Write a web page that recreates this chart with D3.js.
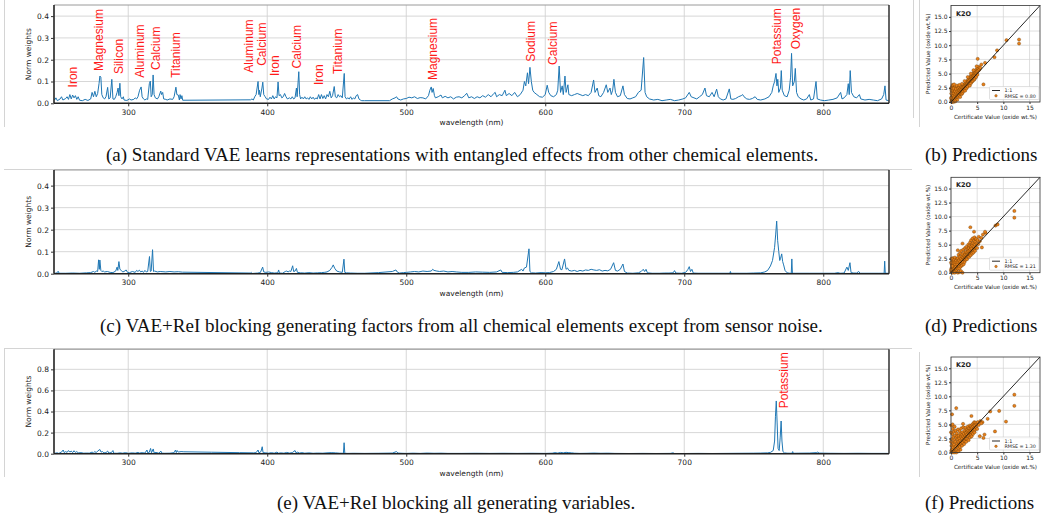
<!DOCTYPE html>
<html>
<head>
<meta charset="utf-8">
<script src="https://cdn.jsdelivr.net/npm/d3@7"></script>
<style>
body{margin:0;background:#fff;}
svg{display:block;}
.tick text{font-family:"DejaVu Sans",sans-serif;fill:#222;}
.tick line{stroke:#333;}
.domain{display:none;}
.axlabel{font-family:"DejaVu Sans",sans-serif;fill:#222;}
.caption{font-family:"Liberation Serif","Times New Roman",serif;font-size:19px;fill:#111;}
.elem{font-family:"Liberation Sans",Arial,sans-serif;font-size:12px;fill:#ff1a1a;}
.grid{stroke:#d2d2d2;stroke-width:0.9;}
.frame{stroke:#d4d4d4;stroke-width:1;}
</style>
</head>
<body>
<svg id="fig" width="1041" height="516"></svg>
<script>
// ---- data ----
var wlTicks = [300,400,500,600,700,800];
var yTicksAC = [0,0.1,0.2,0.3,0.4];
var yTicksE = [0,0.2,0.4,0.6,0.8];
var scTicksX = [0,5,10,15];
var scTicksY = [0,2.5,5,7.5,10,12.5,15];

// (a) standard VAE weights  [wavelength, weight]
var specA = [[247,0.015],[248,0.025],[249,0.012],[251,0.02],[252,0.03],[253,0.015],[255,0.022],[256,0.03],[257,0.018],[258,0.04],[259,0.02],[260,0.038],[261,0.025],[262,0.035],[263,0.018],[264,0.03],[265,0.014],[267,0.012],[269,0.018],[271,0.013],[273,0.02],[274,0.05],[275,0.03],[276,0.055],[277,0.03],[278,0.045],[279,0.09],[279.6,0.125],[280.3,0.12],[281,0.04],[282,0.025],[283,0.02],[284,0.03],[285.2,0.073],[286,0.02],[287,0.025],[288.2,0.11],[289,0.02],[290,0.018],[291,0.03],[292,0.05],[292.7,0.07],[293.3,0.035],[294,0.092],[294.6,0.03],[295.5,0.02],[296.5,0.03],[297,0.015],[299,0.013],[301,0.02],[302,0.015],[304,0.018],[305,0.025],[306,0.02],[307,0.03],[308.2,0.06],[309.3,0.075],[310,0.03],[311,0.02],[312,0.015],[313,0.02],[314,0.018],[315.2,0.09],[315.9,0.102],[316.5,0.03],[317.3,0.04],[317.9,0.13],[318.6,0.04],[319.5,0.025],[321,0.02],[322,0.03],[323.4,0.056],[324,0.04],[324.8,0.05],[325.5,0.02],[327,0.018],[328,0.015],[330,0.02],[332,0.018],[333,0.03],[334.3,0.074],[335,0.04],[336,0.038],[336.8,0.015],[337.3,0.04],[338,0.02],[338.6,0.035],[339.2,0.014],
  [388,0.016],[389,0.02],[390,0.015],[391,0.03],[392,0.04],[393.4,0.1],[394,0.04],[394.4,0.06],[395,0.03],[396.2,0.07],[396.8,0.097],[397.5,0.04],[398.5,0.03],[399.5,0.02],[401,0.018],[402,0.028],[403,0.02],[404,0.035],[405,0.02],[406,0.03],[407,0.025],[407.8,0.098],[408.5,0.035],[409.5,0.04],[410.5,0.025],[411.5,0.03],[412.5,0.045],[413.5,0.03],[414.5,0.02],[416,0.025],[417,0.02],[418,0.03],[419,0.02],[420,0.025],[421,0.07],[421.5,0.03],[422.7,0.145],[423.3,0.04],[424,0.02],[425,0.028],[426,0.02],[427,0.03],[428,0.02],[429,0.025],[430,0.018],[431,0.03],[432,0.02],[433,0.028],[434,0.018],[435,0.025],[436,0.02],[437,0.04],[438,0.02],[439,0.04],[440,0.022],[441,0.035],[442,0.02],[443,0.04],[444,0.03],[445,0.055],[446,0.025],[447,0.035],[448.2,0.077],[449,0.03],[450,0.025],[451,0.04],[452,0.03],[453,0.035],[454,0.025],[455.4,0.137],[456,0.03],[457,0.02],[458,0.025],[459,0.02],[460,0.03],[461,0.018],[462,0.025],[463,0.02],[464,0.035],[465,0.04],[466,0.02],[467,0.015],[468,0.012],[470,0.012],
  [488,0.012],[490,0.02],[492,0.025],[493,0.03],[494,0.02],[496,0.015],[498,0.02],[500,0.022],[502,0.028],[504,0.025],[506,0.03],[508,0.022],[510,0.026],[512,0.025],[514,0.02],[516,0.035],[517,0.06],[518,0.075],[518.6,0.05],[519.4,0.068],[520.3,0.035],[521,0.025],[523,0.03],[525,0.038],[526,0.025],[528,0.032],[530,0.025],[532,0.03],[534,0.02],[536,0.028],[538,0.03],[540,0.025],[542,0.035],[543.5,0.046],[545,0.025],[547,0.03],[549,0.022],[551,0.03],[553,0.025],[555,0.035],[557,0.028],[559,0.04],[561,0.03],[563,0.045],[564,0.05],[565,0.03],[567,0.04],[569,0.035],[571,0.06],[572,0.035],[574,0.045],[576,0.035],[578,0.05],[580,0.03],[582,0.04],[584,0.06],[585,0.1],[586,0.08],[587.2,0.14],[588,0.09],[589,0.165],[590,0.1],[591,0.06],[592,0.05],[594,0.04],[596,0.03],[598,0.028],[600,0.04],[601.4,0.083],[602.5,0.05],[604,0.035],[606,0.03],[608,0.04],[609,0.06],[610,0.171],[611,0.05],[612.2,0.08],[613,0.04],[614.2,0.125],[615,0.05],[616.3,0.085],[617,0.04],[619,0.035],[621,0.04],[623,0.045],[625,0.04],[627,0.035],[629,0.04],[631,0.035],[633,0.05],[634.8,0.107],[635.8,0.05],[637.4,0.07],[638.5,0.035],[640,0.03],[642,0.05],[643.9,0.085],[645,0.05],[646.6,0.07],[647.5,0.04],[648.5,0.06],[649.4,0.11],[650.5,0.05],[652,0.03],[654,0.035],[655.9,0.08],[657,0.04],[659,0.022],[661,0.02],[663,0.025],[665,0.03],[667,0.05],[669,0.06],[670.8,0.21],[671.8,0.05],[673,0.03],[675,0.02],[678,0.015],[681,0.018],[684,0.012],[687,0.015],[690,0.018],[693,0.012],[696,0.015],[699,0.02],[701,0.025],[703.6,0.05],[705,0.03],[707,0.025],[709,0.02],[711,0.03],[713,0.04],[714.9,0.07],[716,0.035],[718,0.03],[720,0.05],[721.5,0.03],[723.3,0.065],[724.5,0.03],[726,0.02],[728,0.015],[730,0.02],[732.4,0.066],[733.5,0.02],[735,0.018],[737,0.022],[739,0.03],[741,0.035],[742,0.04],[743,0.03],[745,0.02],[747,0.018],[749,0.022],[751,0.03],[752.5,0.018],[755,0.015],[758,0.02],[761,0.03],[763,0.05],[764,0.08],[765,0.1],[766,0.137],[766.7,0.08],[767.3,0.11],[768,0.05],[769.2,0.07],[769.8,0.15],[770.5,0.06],[772,0.035],[774,0.03],[775.5,0.06],[776.5,0.12],[777.2,0.229],[778,0.08],[779.2,0.1],[779.9,0.16],[780.8,0.05],[782,0.03],[784,0.02],[786,0.015],[788,0.02],[790,0.04],[791,0.015],[793,0.02],[794.8,0.1],[795.7,0.02],[798,0.015],[801,0.012],[804,0.015],[807,0.018],[810,0.025],[812.5,0.05],[813.5,0.02],[815,0.025],[817,0.04],[818,0.09],[818.7,0.04],[819.4,0.15],[820.3,0.05],[822,0.03],[824,0.025],[826,0.04],[827,0.02],[830,0.015],[833,0.018],[836,0.015],[839,0.012],[842,0.02],[843.5,0.04],[844.4,0.08],[845.2,0.015],[847,0.012]];

// (c) VAE+ReI, sensor noise kept
var specC = [[247,0.002],[248.5,0.003],[249.6,0.011],[250.3,0.002],[255,0.002],[260,0.003],[265,0.002],[270,0.004],[273,0.005],[275,0.01],[276,0.006],[277,0.012],[278,0.01],[278.7,0.063],[279.2,0.02],[279.6,0.062],[280.3,0.015],[281,0.01],[282,0.012],[283,0.008],[285,0.01],[287,0.006],[289,0.005],[291,0.012],[292,0.03],[292.5,0.015],[293.3,0.055],[294,0.02],[295,0.015],[296,0.008],[297,0.01],[298.5,0.017],[299.5,0.006],[301,0.005],[303,0.01],[305,0.006],[306,0.015],[307,0.01],[308,0.016],[309,0.008],[310,0.012],[311,0.006],[312,0.015],[313,0.008],[314,0.01],[315.3,0.078],[315.9,0.01],[316.5,0.012],[317.5,0.109],[318.2,0.01],[319,0.012],[321,0.008],[323,0.01],[325,0.009],[327,0.008],[330,0.01],[333,0.008],[336,0.009],[339,0.007],
  [388,0.003],[388.5,0.006],[389,0.001],[393,0.003],[395,0.005],[396.7,0.03],[397.5,0.008],[399,0.006],[401,0.008],[403,0.005],[405,0.003],[407.6,0.004],[408.2,0.017],[408.8,0.003],[411,0.002],[413,0.01],[414,0.012],[415,0.008],[416,0.012],[417,0.01],[418.3,0.036],[419,0.01],[420,0.012],[421,0.024],[421.7,0.006],[424,0.004],[427,0.003],[430,0.005],[433,0.003],[436,0.004],[439,0.005],[441,0.006],[443,0.008],[445,0.015],[446.5,0.028],[447.5,0.04],[448.5,0.025],[450,0.012],[452,0.008],[454,0.006],[455.2,0.066],[455.8,0.006],[457,0.004],[460,0.003],[465,0.002],[470,0.002],
  [480,0.005],[490,0.01],[492.6,0.017],[493.5,0.008],[495,0.003],[498,0.005],[500,0.006],[503,0.008],[506,0.01],[509,0.008],[512,0.012],[515,0.01],[518,0.012],[519,0.02],[520,0.015],[522,0.012],[524,0.01],[527,0.012],[530,0.008],[533,0.01],[536,0.008],[540,0.006],[545,0.006],[550,0.008],[555,0.007],[560,0.006],[565,0.008],[568,0.017],[569,0.006],[573,0.005],[577,0.006],[580,0.008],[583,0.02],[584,0.012],[585,0.026],[586.5,0.03],[588.3,0.113],[589,0.01],[590,0.004],[593,0.003],[597,0.005],[600,0.004],[603,0.005],[606,0.01],[608,0.02],[609.8,0.055],[611,0.02],[612,0.018],[613.9,0.067],[615,0.02],[616,0.026],[617,0.015],[619,0.012],[621,0.015],[623,0.01],[625,0.015],[627,0.012],[629,0.017],[631,0.015],[633,0.02],[635,0.017],[637,0.015],[639,0.018],[641,0.012],[643,0.015],[645,0.013],[647,0.02],[649.2,0.05],[650.5,0.015],[652,0.012],[654,0.02],[655.9,0.044],[657,0.01],[659,0.003],[663,0.002],[667,0.004],[669,0.01],[670.5,0.02],[671.5,0.01],[672.5,0.02],[673.5,0.004],[677,0.002],[682,0.002],[686,0.003],[689,0.003],[692,0.004],[693,0.014],[694,0.003],[698,0.002],[701,0.006],[702.5,0.018],[703.6,0.032],[704.5,0.01],[705.5,0.02],[706.5,0.003],[710,0.002],[715,0.002],[720,0.002],[725,0.002],[730,0.002],[732.8,0.002],[733.2,0.01],[733.6,0.002],[740,0.002],[745,0.002],[750,0.003],[755,0.004],[758,0.008],[760,0.015],[762,0.035],[763.5,0.06],[765,0.12],[765.8,0.18],[766.5,0.239],[767.2,0.15],[768,0.1],[768.7,0.06],[769.3,0.07],[770.1,0.09],[770.8,0.055],[771.5,0.04],[772.5,0.015],[774,0.004],[776,0.002],[777,0.002],[777.4,0.067],[777.8,0.002],[780,0.002],[790,0.002],[800,0.002],[808,0.002],[811,0.005],[812,0.002],[815,0.003],[817,0.03],[818,0.015],[819.2,0.05],[820,0.005],[822,0.003],[824,0.003],[825.5,0.01],[826.5,0.002],[830,0.002],[835,0.002],[840,0.002],[843.8,0.002],[844.2,0.057],[844.6,0.002],[847,0.002]];

// (e) VAE+ReI, everything blocked
var specE = [[247,0.004],[249,0.008],[250,0.003],[252,0.015],[253.2,0.035],[254,0.01],[255,0.02],[256,0.012],[257,0.03],[258,0.015],[259,0.025],[260,0.01],[261,0.028],[262,0.012],[263,0.02],[264,0.008],[266,0.01],[268,0.005],[270,0.006],[272,0.005],[274,0.015],[275,0.008],[276,0.02],[277,0.01],[278,0.025],[279.6,0.04],[280.5,0.015],[281.5,0.02],[282.5,0.008],[284,0.01],[285.2,0.025],[286,0.006],[288,0.012],[289,0.03],[289.5,0.005],[292,0.004],[294,0.008],[296,0.005],[298,0.01],[300,0.004],[303,0.008],[305,0.005],[307,0.012],[308,0.006],[310,0.01],[312,0.006],[313.5,0.035],[314,0.008],[315,0.01],[316.1,0.05],[316.7,0.008],[318,0.045],[318.6,0.008],[320,0.012],[322,0.005],[323.5,0.025],[324,0.005],[326,0.004],[330,0.005],[333,0.01],[334,0.035],[334.6,0.01],[335.2,0.03],[336,0.015],[338,0.02],[340,0.018],[360,0.014],[380,0.01],[390,0.008],[392,0.01],[393.4,0.035],[394,0.008],[395.5,0.02],[396.4,0.066],[397,0.01],[399,0.008],[401,0.005],[403,0.01],[405,0.005],[407,0.015],[408,0.005],[410,0.008],[412,0.005],[414,0.012],[416,0.006],[418,0.01],[420,0.03],[420.7,0.008],[422,0.015],[423,0.006],[425,0.01],[427,0.005],[430,0.008],[433,0.004],[436,0.006],[440,0.005],[443,0.008],[446,0.01],[449,0.008],[452,0.005],[454.8,0.004],[455.3,0.104],[455.8,0.004],[458,0.003],[462,0.004],[470,0.003],[480,0.004],[490,0.006],[493,0.02],[494,0.006],[497,0.004],[500,0.003],[505,0.005],[510,0.003],[515,0.006],[520,0.004],[525,0.005],[530,0.003],[540,0.003],[550,0.004],[560,0.003],[570,0.004],[580,0.003],[590,0.004],[600,0.003],[605,0.005],[607,0.01],[609,0.006],[611,0.012],[613,0.008],[615,0.013],[617,0.01],[619,0.008],[621,0.005],[625,0.003],[630,0.004],[635,0.006],[640,0.004],[645,0.005],[650,0.003],[660,0.002],[670,0.003],[680,0.002],[690,0.003],[692,0.008],[693,0.002],[700,0.002],[710,0.003],[720,0.002],[730,0.003],[740,0.004],[750,0.005],[755,0.006],[760,0.008],[762,0.012],[764,0.03],[765,0.12],[765.6,0.35],[766.2,0.5],[766.8,0.3],[767.5,0.05],[768.3,0.03],[769,0.15],[769.7,0.31],[770.3,0.12],[771,0.02],[772,0.008],[774,0.005],[777.5,0.004],[778,0.02],[778.5,0.004],[782,0.005],[790,0.006],[795,0.01],[796,0.015],[797,0.006],[805,0.004],[815,0.003],[825,0.004],[835,0.003],[847,0.003]];

// element labels  [name, wavelength, weight at the foot of the text]
var labelsA = [['Iron',260.4,0.073],['Magnesium',279.1,0.148],['Silicon',293.5,0.134],['Aluminum',308.4,0.117],['Calcium',319.9,0.153],['Titanium',334.1,0.117],['Aluminum',387,0.14],['Calcium',396,0.172],['Iron',405.5,0.125],['Calcium',421.6,0.16],['Iron',437.4,0.084],['Titanium',451.1,0.134],['Magnesium',519.4,0.107],['Sodium',589.7,0.191],['Calcium',605.7,0.176],['Potassium',766.9,0.179],['Oxygen',780.1,0.248]];
var labelsE = [['Potassium',771.4,0.43]];

// K2O predictions  [certificate, predicted]
var scatB = [[0.05,0.1],[0.1,0.4],[0.15,0.9],[0.2,0.2],[0.25,1.3],[0.3,0.6],[0.35,1.8],[0.4,0.3],[0.45,1.1],[0.5,2.2],[0.55,0.7],[0.6,1.5],[0.65,0.2],[0.7,2.6],[0.75,1.0],[0.8,1.9],[0.85,0.5],[0.9,1.3],[0.95,2.3],[1.0,0.8],[1.05,1.6],[1.1,2.9],[1.15,1.1],[1.2,0.4],[0.1,2.0],[0.2,2.7],[0.3,3.0],[0.4,2.4],[0.05,1.5],[0.6,3.1],[0.0,0.7],[0.0,2.4],[0.15,0.0],[0.45,0.0],[0.8,0.1],
  [1.25,1.9],[1.3,1.4],[1.35,2.4],[1.4,0.9],[1.45,1.7],[1.5,2.1],[1.55,1.2],[1.6,2.6],[1.65,1.6],[1.7,2.0],[1.75,0.9],[1.8,2.3],[1.85,1.5],[1.9,2.7],[1.95,1.9],[2.0,2.2],[2.05,1.4],[2.1,2.5],[2.15,2.0],[2.2,1.6],[2.25,2.8],[2.3,2.3],[2.35,1.9],[2.4,2.6],[2.45,3.0],[2.5,2.2],[2.55,2.7],[2.6,2.4],[2.65,3.1],[2.7,2.0],[2.75,2.9],[2.8,3.3],[2.85,2.6],[2.9,3.0],[2.95,2.4],[3.0,3.4],
  [3.05,2.9],[3.1,3.7],[3.15,3.2],[3.2,2.7],[3.25,3.5],[3.3,3.9],[3.35,3.1],[3.4,3.6],[3.45,4.2],[3.5,3.3],[3.55,3.8],[3.6,2.9],[3.65,4.4],[3.7,3.5],[3.75,4.0],[3.8,3.3],[3.85,4.6],[3.9,3.8],[3.95,4.2],[4.0,3.6],[4.05,4.8],[4.1,4.1],[4.15,3.7],[4.2,4.5],[4.25,5.0],[4.3,4.2],[4.35,4.7],[4.4,3.9],[4.45,5.3],[4.5,4.6],[4.55,4.1],[4.6,5.0],[4.65,5.5],[4.7,4.7],[4.75,5.2],[4.8,4.4],[4.85,5.7],[4.9,5.0],[5.0,5.4],[5.05,4.8],[5.1,5.9],[5.2,5.5],[5.3,6.2],[5.4,5.7],[5.6,6.0],[3.2,4.4],[2.6,3.7],[3.8,5.0],[4.3,5.6],[4.9,6.3],[2.1,3.2],[1.6,3.0],
  [5.1,7.6],[6.2,3.1],[5.8,6.6],[6.5,6.9],[8.3,7.9],[8.8,9.1],[10.6,10.9],[13.0,11.0],[13.0,10.3]];
var scatD = [[0.05,0.2],[0.1,0.8],[0.15,1.5],[0.2,0.4],[0.25,2.1],[0.3,1.0],[0.35,2.6],[0.4,0.1],[0.45,1.7],[0.5,0.6],[0.55,2.3],[0.6,1.2],[0.65,0.3],[0.7,1.9],[0.75,2.7],[0.8,0.9],[0.85,1.5],[0.9,0.2],[0.95,2.1],[1.0,1.1],[1.05,0.5],[1.1,1.8],[1.15,2.5],[1.2,0.8],[0.1,2.5],[0.2,1.2],[0.0,1.8],[0.0,0.5],[0.3,0.0],[0.7,0.0],[1.3,0.0],[1.6,0.1],[1.9,0.3],[2.2,0.0],
  [1.25,1.5],[1.3,2.6],[1.35,0.7],[1.4,1.9],[1.45,3.2],[1.5,1.2],[1.55,2.2],[1.6,0.8],[1.65,2.8],[1.7,1.6],[1.75,3.5],[1.8,2.0],[1.85,1.1],[1.9,2.5],[1.95,3.9],[2.0,1.7],[2.05,2.9],[2.1,1.3],[2.15,2.3],[2.2,3.3],[2.25,1.9],[2.3,2.7],[2.35,4.1],[2.4,1.5],[2.45,3.0],[2.5,2.4],[2.55,3.6],[2.6,1.9],[2.65,2.8],[2.7,4.4],[2.75,3.2],[2.8,2.3],[2.85,3.7],[2.9,2.7],[2.95,4.6],[3.0,3.1],
  [3.05,2.4],[3.1,3.6],[3.15,4.2],[3.2,2.9],[3.25,3.8],[3.3,5.0],[3.35,3.3],[3.4,4.4],[3.45,2.8],[3.5,3.9],[3.55,4.8],[3.6,3.4],[3.65,5.4],[3.7,4.1],[3.75,3.1],[3.8,4.6],[3.85,5.8],[3.9,3.7],[3.95,4.3],[4.0,5.1],[4.05,3.4],[4.1,4.8],[4.15,6.1],[4.2,4.0],[4.25,5.3],[4.3,3.6],[4.35,4.6],[4.4,5.7],[4.45,4.2],[4.5,6.3],[4.55,5.0],[4.6,3.9],[4.65,5.5],[4.7,4.5],[4.8,6.0],[4.9,5.2],[5.0,4.4],[5.1,5.8],[5.2,5.1],[5.3,6.4],[5.5,5.6],[5.8,6.2],[6.1,6.8],[6.6,7.1],
  [3.7,8.1],[4.4,7.3],[1.3,4.0],[2.2,5.2],[6.5,7.3],[5.9,4.5],[8.5,8.4],[8.9,8.6],[12.1,11.0],[12.1,9.8]];
var scatF = [[0.05,0.3],[0.1,1.2],[0.15,2.4],[0.2,0.6],[0.25,3.3],[0.3,1.7],[0.35,4.2],[0.4,0.9],[0.45,2.8],[0.5,0.2],[0.55,3.7],[0.6,1.4],[0.65,2.2],[0.7,4.6],[0.75,0.7],[0.8,3.0],[0.85,1.9],[0.9,3.9],[0.95,1.1],[1.0,2.6],[1.05,0.4],[1.1,3.4],[1.15,1.6],[1.2,2.9],[0.1,4.8],[0.0,3.6],[0.0,1.9],[0.2,0.0],[0.6,0.0],[1.0,0.0],[1.4,0.2],[1.8,0.5],[0.3,5.0],
  [1.25,1.3],[1.3,2.3],[1.35,4.1],[1.4,0.8],[1.45,1.9],[1.5,3.0],[1.55,1.4],[1.6,2.5],[1.65,3.8],[1.7,1.0],[1.75,2.1],[1.8,3.3],[1.85,1.6],[1.9,2.8],[1.95,4.3],[2.0,1.9],[2.05,3.1],[2.1,1.2],[2.15,2.5],[2.2,3.6],[2.25,1.7],[2.3,2.9],[2.35,4.5],[2.4,2.2],[2.45,3.3],[2.5,1.5],[2.55,2.7],[2.6,3.9],[2.65,2.0],[2.7,3.0],[2.75,4.4],[2.8,2.5],[2.85,3.5],[2.9,1.9],[2.95,2.9],[3.0,4.0],
  [3.05,3.2],[3.1,2.4],[3.15,3.7],[3.2,4.6],[3.25,2.9],[3.3,3.9],[3.35,2.2],[3.4,3.4],[3.45,4.3],[3.5,3.0],[3.55,3.8],[3.6,4.8],[3.65,2.7],[3.7,3.6],[3.75,4.2],[3.8,3.1],[3.85,4.7],[3.9,3.9],[3.95,2.9],[4.0,4.4],[4.05,3.5],[4.1,5.0],[4.15,4.0],[4.2,3.3],[4.25,4.6],[4.3,5.2],[4.35,3.8],[4.4,4.3],[4.45,5.4],[4.5,3.6],[4.55,4.8],[4.6,4.1],[4.7,5.3],[4.8,4.5],[4.9,5.0],[5.0,4.2],[5.1,5.4],[5.3,4.9],[5.6,5.6],[6.0,5.4],
  [0.2,6.8],[1.0,7.9],[3.9,6.5],[2.3,5.1],[5.8,5.2],[6.2,2.6],[6.4,3.2],[5.5,2.9],[7.0,6.0],[7.5,7.3],[8.4,3.75],[9.2,7.4],[10.5,5.5],[12.1,10.3],[12.1,8.3]];
var rmseB = '0.80', rmseD = '1.21', rmseF = '1.30';

var captions = [
  ['(a) Standard VAE learns representations with entangled effects from other chemical elements.',106,161],
  ['(b) Predictions',925,161],
  ['(c) VAE+ReI blocking generating factors from all chemical elements except from sensor noise.',100,332],
  ['(d) Predictions',925,332],
  ['(e) VAE+ReI blocking all generating variables.',277,509],
  ['(f) Predictions',925,509]];

var svg = d3.select('#fig');

// faint frames of the pasted sub-figures
var frames = [[4.5,0,4.5,127],[913.5,0,913.5,118],[919.5,0,919.5,127],[4,169.5,912,169.5],
              [4,348.5,912,348.5],[4.5,348,4.5,477],[919.5,352,919.5,477]];
svg.selectAll('line.frame').data(frames).enter().append('line')
   .attr('class','frame')
   .attr('x1',function(d){return d[0];}).attr('y1',function(d){return d[1];})
   .attr('x2',function(d){return d[2];}).attr('y2',function(d){return d[3];});

var x = d3.scaleLinear().domain([246.6,847.3]).range([54,889]);

function drawSpectrum(spec, top, bottom, yMax, yTicks, labels){
    var y = d3.scaleLinear().domain([0,yMax]).range([bottom,top]);
    var g = svg.append('g');

    //grid
    g.selectAll('.vg').data(wlTicks).enter().append('line')
      .attr('class','grid')
      .attr('x1',function(d){return x(d);}).attr('x2',function(d){return x(d);})
      .attr('y1',top).attr('y2',bottom);
    g.selectAll('.hg').data(yTicks).enter().append('line')
      .attr('class','grid')
      .attr('x1',x.range()[0]).attr('x2',x.range()[1])
      .attr('y1',function(d){return y(d);}).attr('y2',function(d){return y(d);});

    //spectrum line
    var line = d3.line().x(function(d){return x(d[0]);}).y(function(d){return y(d[1]);});
    g.append('path')
      .datum(spec)
      .attr('d',line)
      .attr('fill','none')
      .attr('stroke','#1f77b4')
      .attr('stroke-width',1)
      .attr('stroke-linejoin','round');

    //spines
    g.append('line').attr('x1',54).attr('x2',889).attr('y1',top).attr('y2',top)
      .attr('stroke','#9a9a9a').attr('stroke-width',1);
    g.append('line').attr('x1',54).attr('x2',889).attr('y1',bottom).attr('y2',bottom)
      .attr('stroke','#222').attr('stroke-width',1.4);
    g.append('line').attr('x1',54).attr('x2',54).attr('y1',top).attr('y2',bottom)
      .attr('stroke','#222').attr('stroke-width',1.6);
    g.append('line').attr('x1',889).attr('x2',889).attr('y1',top).attr('y2',bottom)
      .attr('stroke','#222').attr('stroke-width',1.4);

    //axes
    g.append('g')
      .attr('transform','translate(0,'+bottom+')')
      .call(d3.axisBottom(x).tickValues(wlTicks).tickSize(3).tickPadding(3).tickFormat(d3.format('d')))
      .selectAll('text').style('font-size','7.5px');
    g.append('g')
      .attr('transform','translate(54,0)')
      .call(d3.axisLeft(y).tickValues(yTicks).tickSize(3).tickPadding(2).tickFormat(d3.format('.1f')))
      .selectAll('text').style('font-size','7.5px');

    g.append('text')
      .attr('class','axlabel')
      .attr('x',471.5).attr('y',bottom+22)
      .attr('text-anchor','middle')
      .style('font-size','7.5px')
      .text('wavelength (nm)');
    g.append('text')
      .attr('class','axlabel')
      .attr('transform','translate(31,'+((top+bottom)/2)+') rotate(-90)')
      .attr('text-anchor','middle')
      .style('font-size','7.5px')
      .text('Norm weights');

    //element names
    g.selectAll('.elem').data(labels).enter().append('text')
      .attr('class','elem')
      .attr('transform',function(d){return 'translate('+x(d[1])+','+y(d[2])+') rotate(-90)';})
      .attr('dy','0.35em')
      .text(function(d){return d[0];});
}

function drawScatter(pts, rmse, top, bottom){
    var sx = d3.scaleLinear().domain([0,17]).range([951,1040]);
    var sy = d3.scaleLinear().domain([0,17]).range([bottom,top]);
    var g = svg.append('g');

    //grid
    g.selectAll('.vg').data(scTicksX).enter().append('line')
      .attr('class','grid').style('stroke-width',0.7)
      .attr('x1',function(d){return sx(d);}).attr('x2',function(d){return sx(d);})
      .attr('y1',top).attr('y2',bottom);
    g.selectAll('.hg').data(scTicksY).enter().append('line')
      .attr('class','grid').style('stroke-width',0.7)
      .attr('x1',951).attr('x2',1040)
      .attr('y1',function(d){return sy(d);}).attr('y2',function(d){return sy(d);});

    //points
    g.selectAll('circle.pt').data(pts).enter().append('circle')
      .attr('class','pt')
      .attr('cx',function(d){return sx(d[0]);})
      .attr('cy',function(d){return sy(d[1]);})
      .attr('r',1.6)
      .attr('fill','#e8801a')
      .attr('stroke','#5a3000')
      .attr('stroke-width',0.35);

    //1:1 line
    g.append('line')
      .attr('x1',sx(0)).attr('y1',sy(0)).attr('x2',sx(17)).attr('y2',sy(17))
      .attr('stroke','#111').attr('stroke-width',0.9);

    //frame
    g.append('rect')
      .attr('x',951).attr('y',top).attr('width',89).attr('height',bottom-top)
      .attr('fill','none').attr('stroke','#333').attr('stroke-width',0.8);

    //axes
    g.append('g')
      .attr('transform','translate(0,'+bottom+')')
      .call(d3.axisBottom(sx).tickValues(scTicksX).tickSize(2).tickPadding(1.5))
      .selectAll('text').style('font-size','6px');
    g.append('g')
      .attr('transform','translate(951,0)')
      .call(d3.axisLeft(sy).tickValues(scTicksY).tickSize(2).tickPadding(1.5).tickFormat(d3.format('.1f')))
      .selectAll('text').style('font-size','6px');

    g.append('text')
      .attr('class','axlabel')
      .attr('x',995.5).attr('y',bottom+16.5)
      .attr('text-anchor','middle')
      .style('font-size','5.6px')
      .text('Certificate Value (oxide wt.%)');
    g.append('text')
      .attr('class','axlabel')
      .attr('transform','translate(929.5,'+((top+bottom)/2)+') rotate(-90)')
      .attr('text-anchor','middle')
      .style('font-size','5.6px')
      .text('Predicted Value (oxide wt.%)');

    g.append('text')
      .attr('class','axlabel')
      .attr('x',956).attr('y',top+10)
      .style('font-size','6.5px')
      .style('font-weight','bold')
      .text('K2O');

    //legend
    var lg = g.append('g').attr('transform','translate(989.5,'+(bottom-15.5)+')');
    lg.append('rect')
      .attr('width',49.5).attr('height',13).attr('rx',1)
      .attr('fill','#fff').attr('fill-opacity',0.85)
      .attr('stroke','#ccc').attr('stroke-width',0.6);
    lg.append('line').attr('x1',2.5).attr('x2',10.5).attr('y1',4).attr('y2',4)
      .attr('stroke','#111').attr('stroke-width',0.9);
    lg.append('circle').attr('cx',6.5).attr('cy',9.3).attr('r',1.3)
      .attr('fill','#e8801a').attr('stroke','#5a3000').attr('stroke-width',0.3);
    lg.append('text').attr('class','axlabel').attr('x',15).attr('y',5.6)
      .style('font-size','4.8px').text('1:1');
    lg.append('text').attr('class','axlabel').attr('x',15).attr('y',11)
      .style('font-size','4.8px').text('RMSE = '+rmse);
}

drawSpectrum(specA, 5, 103.3, 0.451, yTicksAC, labelsA);
drawSpectrum(specC, 170, 273.7, 0.471, yTicksAC, []);
drawSpectrum(specE, 349.3, 453.7, 0.99, yTicksE, labelsE);

drawScatter(scatB, rmseB, 5.5, 102);
drawScatter(scatD, rmseD, 177.3, 272.7);
drawScatter(scatF, rmseF, 357, 452.5);

//captions
svg.selectAll('text.caption').data(captions).enter().append('text')
   .attr('class','caption')
   .attr('x',function(d){return d[1];})
   .attr('y',function(d){return d[2];})
   .text(function(d){return d[0];});
</script>
</body>
</html>
